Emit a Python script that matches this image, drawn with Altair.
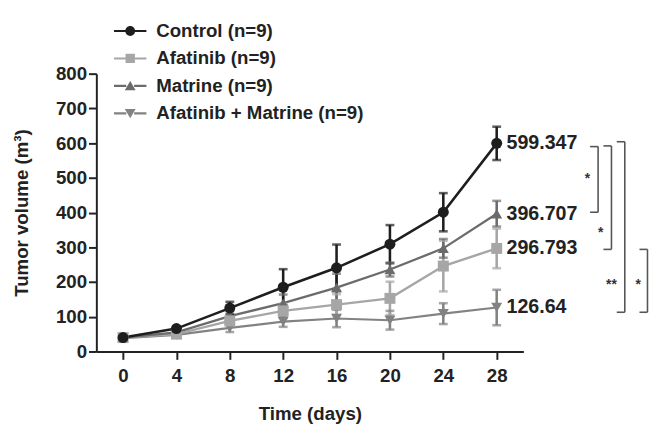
import altair as alt
import pandas as pd

days = [0, 4, 8, 12, 16, 20, 24, 28]
series_names = ["Control (n=9)", "Afatinib (n=9)", "Matrine (n=9)", "Afatinib + Matrine (n=9)"]

control = [40, 66, 125, 185, 241, 309, 401, 599.347]
control_se = [5, 6, 18, 52, 67, 55, 55, 48]
afatinib = [40, 50, 88, 117, 135, 153, 246, 296.793]
afatinib_se = [5, 5, 12, 20, 30, 48, 73, 57]
matrine = [40, 55, 102, 139, 184, 236, 297, 396.707]
matrine_se = [5, 6, 14, 25, 40, 20, 27, 37]
combo = [38, 48, 68, 86, 95, 90, 109, 126.64]
combo_se = [4, 5, 12, 15, 25, 27, 30, 51]

final_labels = ["599.347", "296.793", "396.707", "126.64"]

colors = ["#1e1e1e", "#a6a6a6", "#6b6b6b", "#828282"]
plot_shapes = ["circle", "square", "triangle-up", "triangle-down"]
line_widths = [2.6, 2.2, 2.2, 2.2]

# legend symbols: line + marker (custom paths in unit box)
seg = "M-3.3,-0.22H-0.8V0.22H-3.3Z M0.8,-0.22H3.3V0.22H0.8Z "
legend_paths = [
    seg + "M-1,0A1,1 0 1,1 1,0A1,1 0 1,1 -1,0Z",
    seg + "M-0.95,-0.95H0.95V0.95H-0.95Z",
    seg + "M0,-1L1.1,0.9H-1.1Z",
    seg + "M0,1L1.1,-0.9H-1.1Z",
]

# significance brackets (x in day units, beyond the axis)
bracket_x = [35.6, 36.6, 37.6, 39.3]
bracket_top = [590, 592, 604, 294]
bracket_bottom = [401, 294, 113, 113]
star_text = ["*", "*", "**", "*"]
star_x = [34.8, 35.8, 36.6, 38.6]
star_y = [497, 342, 190, 190]

rows = []
for name, vals, ses in [
    (series_names[3], combo, combo_se),
    (series_names[1], afatinib, afatinib_se),
    (series_names[2], matrine, matrine_se),
    (series_names[0], control, control_se),
]:
    for d, v, s in zip(days, vals, ses):
        rows.append({"series": name, "day": d, "vol": v, "lo": v - s, "hi": v + s})
df = pd.DataFrame(rows)

lab_df = pd.DataFrame({
    "series": series_names,
    "day": [28] * 4,
    "vol": [control[-1], afatinib[-1], matrine[-1], combo[-1]],
    "label": [final_labels[0], final_labels[1], final_labels[2], final_labels[3]],
})

br_df = pd.DataFrame({
    "x": bracket_x,
    "xl": [v - 0.6 for v in bracket_x],
    "top": bracket_top,
    "bottom": bracket_bottom,
})
st_df = pd.DataFrame({"x": star_x, "y": star_y, "t": star_text})

FONT = "Liberation Sans"
xscale = alt.Scale(domain=[-2, 30], nice=False, zero=False)
yscale = alt.Scale(domain=[0, 800], nice=False)
cscale = alt.Scale(domain=series_names, range=colors)

xaxis = alt.Axis(values=days, title="Time (days)", grid=False, tickSize=8, tickWidth=2,
                 domainWidth=2, domainColor="#222", tickColor="#222",
                 labelFont=FONT, labelFontSize=19, labelFontWeight="bold", labelColor="#222",
                 labelPadding=8, titleFont=FONT, titleFontSize=19, titleFontWeight="bold",
                 titleColor="#222", titlePadding=19, labelFlush=False, labelOverlap=False,
                 tickCount=20)
yaxis = alt.Axis(values=[0, 100, 200, 300, 400, 500, 600, 700, 800], title="Tumor volume (m³)",
                 grid=False, tickSize=8, tickWidth=2, domainWidth=2, domainColor="#222",
                 tickColor="#222", labelFont=FONT, labelFontSize=19, labelFontWeight="bold",
                 labelColor="#222", labelPadding=2, titleFont=FONT, titleFontSize=19,
                 titleFontWeight="bold", titleColor="#222", titlePadding=24, labelFlush=False,
                 labelOverlap=False, tickCount=20)

base = alt.Chart(df)
X = alt.X("day:Q", scale=xscale, axis=xaxis)
Y = alt.Y("vol:Q", scale=yscale, axis=yaxis)
C = alt.Color("series:N", scale=cscale, legend=None)

lines = base.mark_line().encode(
    x=X, y=Y, color=C,
    strokeWidth=alt.StrokeWidth("series:N", scale=alt.Scale(domain=series_names, range=line_widths), legend=None),
    order="day:Q",
)
err = base.mark_rule(strokeWidth=2.6).encode(x="day:Q", y="lo:Q", y2="hi:Q", color=C)
cap_lo = base.mark_tick(orient="horizontal", size=9, thickness=2.6).encode(x="day:Q", y="lo:Q", color=C)
cap_hi = base.mark_tick(orient="horizontal", size=9, thickness=2.6).encode(x="day:Q", y="hi:Q", color=C)

point_layers = []
for name, shp in zip(series_names[::-1], plot_shapes[::-1]):
    point_layers.append(
        base.transform_filter(alt.datum.series == name)
        .mark_point(filled=True, shape=shp, size=125, opacity=1)
        .encode(x="day:Q", y="vol:Q", color=C)
    )

leg = alt.Legend(
    title=None, orient="none", legendX=25, legendY=-53, symbolSize=100,
    symbolStrokeWidth=0, symbolOpacity=1, labelFont=FONT, labelFontSize=19,
    labelFontWeight="bold", labelColor="#222", labelOffset=17, rowPadding=8, padding=0,
    labelLimit=400)

legend_layer = base.transform_filter("false").mark_point(filled=True, opacity=1, size=100).encode(
    x="day:Q", y="vol:Q",
    color=alt.Color("series:N", scale=cscale, legend=leg),
    shape=alt.Shape("series:N", scale=alt.Scale(domain=series_names, range=legend_paths), legend=leg),
)

labels = alt.Chart(lab_df).mark_text(align="left", baseline="middle", dx=10, font=FONT,
                                     fontSize=20, fontWeight="bold", color="#222").encode(
    x="day:Q", y="vol:Q", text="label:N")

bcol = "#555555"
br_v = alt.Chart(br_df).mark_rule(strokeWidth=1.6, color=bcol).encode(x="x:Q", y="top:Q", y2="bottom:Q")
br_t = alt.Chart(br_df).mark_rule(strokeWidth=1.6, color=bcol).encode(x="xl:Q", x2="x:Q", y="top:Q")
br_b = alt.Chart(br_df).mark_rule(strokeWidth=1.6, color=bcol).encode(x="xl:Q", x2="x:Q", y="bottom:Q")
stars = alt.Chart(st_df).mark_text(font=FONT, fontSize=14, fontWeight="bold", color="#333",
                                   baseline="middle", align="center").encode(x="x:Q", y="y:Q", text="t:N")

chart = alt.layer(
    lines, err, cap_lo, cap_hi, *point_layers, legend_layer, labels, br_v, br_t, br_b, stars
).resolve_scale(color="independent", shape="independent").properties(
    width=435, height=283,
    autosize=alt.AutoSizeParams(type="none"),
    padding={"left": 90, "top": 63, "right": 130, "bottom": 72},
).configure(background="white").configure_view(stroke=None)

chart.save("out.html", embed_options={"renderer": "svg", "actions": False})
